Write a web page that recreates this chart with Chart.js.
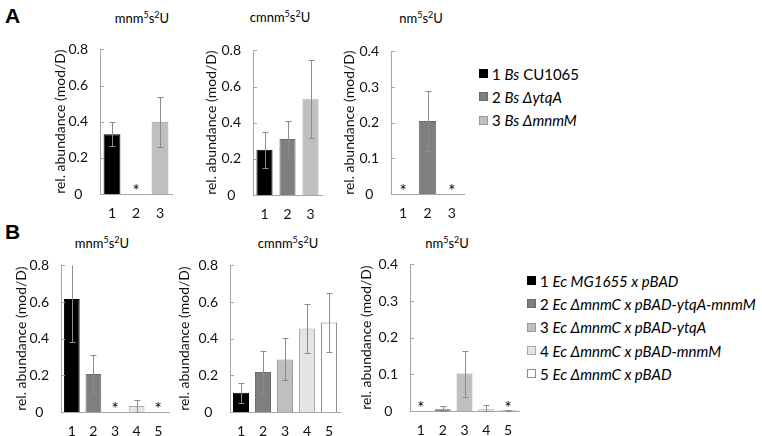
<!DOCTYPE html>
<html><head><meta charset="utf-8">
<script src="https://cdn.jsdelivr.net/npm/chart.js@4"></script>
<style>
body{margin:0;width:762px;height:436px;background:#fff;position:relative;overflow:hidden;font-family:Lato,"Open Sans",sans-serif;color:#000}
canvas{position:absolute}
.t{position:absolute;font-size:13px;transform:translate(-50%,-50%);white-space:nowrap;color:#000}
.t sup{font-size:9px;vertical-align:5px;line-height:0}
.lg{position:absolute;font-size:15px;white-space:nowrap;color:#000}
.lg div{height:23.3px;display:flex;align-items:center}
.sw{display:inline-block;width:7px;height:7px;border:1px solid #808080;margin-right:4px}
.L{position:absolute;font-weight:bold;font-size:21px;font-family:"Liberation Sans",Arial,sans-serif}
</style></head>
<body>
<div class="L" style="left:5px;top:4px">A</div>
<div class="L" style="left:5px;top:220px">B</div>
<div class="t" style="left:142px;top:18px">mnm<sup>5</sup>s<sup>2</sup>U</div>
<div class="t" style="left:280px;top:17px">cmnm<sup>5</sup>s<sup>2</sup>U</div>
<div class="t" style="left:421px;top:18px">nm<sup>5</sup>s<sup>2</sup>U</div>
<div class="t" style="left:102px;top:243px">mnm<sup>5</sup>s<sup>2</sup>U</div>
<div class="t" style="left:288px;top:243px">cmnm<sup>5</sup>s<sup>2</sup>U</div>
<div class="t" style="left:447px;top:243px">nm<sup>5</sup>s<sup>2</sup>U</div>
<div class="lg" id="legA" style="left:479px;top:62px"></div>
<div class="lg" id="legB" style="left:527px;top:269px"></div>
<canvas id="a1"></canvas><canvas id="a2"></canvas><canvas id="a3"></canvas>
<canvas id="b1"></canvas><canvas id="b2"></canvas><canvas id="b3"></canvas>
<script>
// ---- data ----
const catsA = ['1', '2', '3'];
const catsB = ['1', '2', '3', '4', '5'];
const yTitle = 'rel. abundance (mod/D)';
const ticks08 = [0, 0.2, 0.4, 0.6, 0.8];
const ticks04 = [0, 0.1, 0.2, 0.3, 0.4];
const tickLabels08 = ['0', '0.2', '0.4', '0.6', '0.8'];
const tickLabels04 = ['0', '0.1', '0.2', '0.3', '0.4'];

const aMnmVals = [0.33, null, 0.40];
const aMnmErr = [0.066, 0, 0.138];
const aMnmStar = ['', '*', ''];
const aCmnmVals = [0.25, 0.31, 0.53];
const aCmnmErr = [0.10, 0.10, 0.215];
const aCmnmStar = ['', '', ''];
const aNmVals = [null, 0.205, null];
const aNmErr = [0, 0.085, 0];
const aNmStar = ['*', '', '*'];

const bMnmVals = [0.617, 0.208, null, 0.033, null];
const bMnmErr = [0.237, 0.104, 0, 0.035, 0];
const bMnmStar = ['', '', '*', '', '*'];
const bCmnmVals = [0.105, 0.218, 0.287, 0.456, 0.488];
const bCmnmErr = [0.055, 0.113, 0.115, 0.135, 0.162];
const bCmnmStar = ['', '', '', '', ''];
const bNmVals = [null, 0.005, 0.102, 0.005, 0.002];
const bNmErr = [0, 0.009, 0.063, 0.012, 0.002];
const bNmStar = ['*', '', '', '', '*'];

const legendNumA = ['1', '2', '3'];
const legendItA = ['Bs', 'Bs \u0394ytqA', 'Bs \u0394mnmM'];
const legendRestA = ['CU1065', '', ''];
const legendNumB = ['1', '2', '3', '4', '5'];
const legendItB = ['Ec MG1655 x pBAD', 'Ec \u0394mnmC x pBAD-ytqA-mnmM', 'Ec \u0394mnmC x pBAD-ytqA', 'Ec \u0394mnmC x pBAD-mnmM', 'Ec \u0394mnmC x pBAD'];

// ---- styles ----
const fillA = ['#000000', '#7f7f7f', '#bfbfbf'];
const fillB = ['#000000', '#7f7f7f', '#bfbfbf', '#e4e4e4', '#ffffff'];
const edgeA = ['#000000', '#6a6a6a', '#9a9a9a'];
const edgeB = ['#000000', '#6a6a6a', '#9a9a9a', '#a8a8a8', '#8c8c8c'];
const axisColor = '#a6a6a6';
const FONT = 'Lato, "Open Sans", sans-serif';

function buildLegend(id, nums, its, rests, fills, edges) {
  const el = document.getElementById(id);
  nums.forEach((n, i) => {
    const row = document.createElement('div');
    const sw = document.createElement('span');
    sw.className = 'sw'; sw.style.background = fills[i]; sw.style.borderColor = edges[i];
    row.appendChild(sw);
    row.appendChild(document.createTextNode(n + '\u00a0'));
    const it = document.createElement('i'); it.textContent = its[i]; row.appendChild(it);
    if (rests && rests[i]) row.appendChild(document.createTextNode('\u00a0' + rests[i]));
    el.appendChild(row);
  });
}
buildLegend('legA', legendNumA, legendItA, legendRestA, fillA, edgeA);
buildLegend('legB', legendNumB, legendItB, null, fillB, edgeB);

const decor = {
  id: 'decor',
  afterDatasetsDraw(chart, args, opts) {
    const {ctx, chartArea: ca, scales: {x, y}} = chart;
    const meta = chart.getDatasetMeta(0);
    const vals = chart.data.datasets[0].data;
    ctx.save();
    ctx.strokeStyle = axisColor; ctx.lineWidth = 1;
    y.ticks.forEach(t => {
      const py = Math.round(y.getPixelForValue(t.value)) + 0.5;
      ctx.beginPath(); ctx.moveTo(ca.left, py); ctx.lineTo(ca.left + 4, py); ctx.stroke();
    });
    ctx.save();
    ctx.beginPath(); ctx.rect(ca.left, ca.top, ca.right - ca.left, ca.bottom - ca.top + 1); ctx.clip();
    ctx.strokeStyle = '#8c8c8c';
    opts.err.forEach((e, i) => {
      if (!e || vals[i] == null) return;
      const cx = Math.round(meta.data[i].x) + 0.5;
      const v = vals[i];
      const yt = Math.round(y.getPixelForValue(v + e)) + 0.5;
      const yb = Math.round(y.getPixelForValue(Math.max(0, v - e))) + 0.5;
      ctx.beginPath();
      ctx.moveTo(cx, yt); ctx.lineTo(cx, yb);
      ctx.moveTo(cx - 3, yt); ctx.lineTo(cx + 3, yt);
      ctx.moveTo(cx - 3, yb); ctx.lineTo(cx + 3, yb);
      ctx.stroke();
    });
    ctx.restore();
    ctx.fillStyle = '#000'; ctx.font = '17px ' + FONT; ctx.textAlign = 'center'; ctx.textBaseline = 'alphabetic';
    opts.stars.forEach((s, i) => { if (s) ctx.fillText(s, x.getPixelForValue(i), y.getPixelForValue(0) + 3); });
    ctx.restore();
  }
};

function make(id, g) {
  const el = document.getElementById(id);
  const W = g.w, padT = 12, padR = 8, xH = 34;
  const width = Math.round(g.rightX - g.axisX + W + padR);
  const height = Math.round(g.zeroY - g.topY + padT + xH);
  el.width = width; el.height = height;
  el.style.left = (g.axisX - W) + 'px'; el.style.top = (g.topY - padT) + 'px';
  el.style.width = width + 'px'; el.style.height = height + 'px';
  new Chart(el, {
    type: 'bar',
    data: {labels: g.cats, datasets: [{data: g.vals, backgroundColor: g.fill, borderColor: g.edge, borderWidth: 1,
      barPercentage: g.bp, categoryPercentage: 1, borderSkipped: 'start'}]},
    options: {
      responsive: false, animation: false, devicePixelRatio: 1,
      layout: {padding: {top: padT, right: padR, left: 0, bottom: 0}},
      plugins: {legend: {display: false}, tooltip: {enabled: false}, decor: {err: g.err, stars: g.stars}},
      scales: {
        x: {grid: {display: false, drawTicks: false}, border: {display: true, color: axisColor, width: 1},
          ticks: {padding: 11, color: '#111', font: {family: FONT, size: 14}, maxRotation: 0},
          afterFit: s => { s.height = xH; }},
        y: {min: 0, max: g.ticks[g.ticks.length - 1], grid: {display: false, drawTicks: false},
          border: {display: true, color: axisColor, width: 1},
          afterBuildTicks: s => { s.ticks = g.ticks.map(v => ({value: v})); },
          ticks: {padding: 12, crossAlign: 'center', color: '#111', font: {family: FONT, size: 14},
            callback: (v, i) => g.tickLabels[i]},
          title: {display: true, text: yTitle, color: '#111', font: {family: FONT, size: 14}, padding: 0},
          afterFit: s => { s.width = W; }}
      }
    },
    plugins: [decor]
  });
}

make('a1', {cats: catsA, vals: aMnmVals, err: aMnmErr, stars: aMnmStar, fill: fillA, edge: edgeA, ticks: ticks08, tickLabels: tickLabels08,
  axisX: 100, rightX: 172, topY: 41, zeroY: 194, w: 48, bp: 0.7});
make('a2', {cats: catsA, vals: aCmnmVals, err: aCmnmErr, stars: aCmnmStar, fill: fillA, edge: edgeA, ticks: ticks08, tickLabels: tickLabels08,
  axisX: 253, rightX: 322, topY: 42, zeroY: 195, w: 50, bp: 0.7});
make('a3', {cats: catsA, vals: aNmVals, err: aNmErr, stars: aNmStar, fill: fillA, edge: edgeA, ticks: ticks04, tickLabels: tickLabels04,
  axisX: 391, rightX: 464, topY: 43, zeroY: 194, w: 50, bp: 0.72});
make('b1', {cats: catsB, vals: bMnmVals, err: bMnmErr, stars: bMnmStar, fill: fillB, edge: edgeB, ticks: ticks08, tickLabels: tickLabels08,
  axisX: 61, rightX: 169, topY: 257, zeroY: 411.5, w: 48, bp: 0.73});
make('b2', {cats: catsB, vals: bCmnmVals, err: bCmnmErr, stars: bCmnmStar, fill: fillB, edge: edgeB, ticks: ticks08, tickLabels: tickLabels08,
  axisX: 230, rightX: 340, topY: 257, zeroY: 411.5, w: 54, bp: 0.73});
make('b3', {cats: catsB, vals: bNmVals, err: bNmErr, stars: bNmStar, fill: fillB, edge: ['#000000', '#6a6a6a', '#9a9a9a', '#a8a8a8', '#4f81bd'], ticks: ticks04, tickLabels: tickLabels04,
  axisX: 410, rightX: 519, topY: 256, zeroY: 410.7, w: 52, bp: 0.73});
</script>
</body></html>
